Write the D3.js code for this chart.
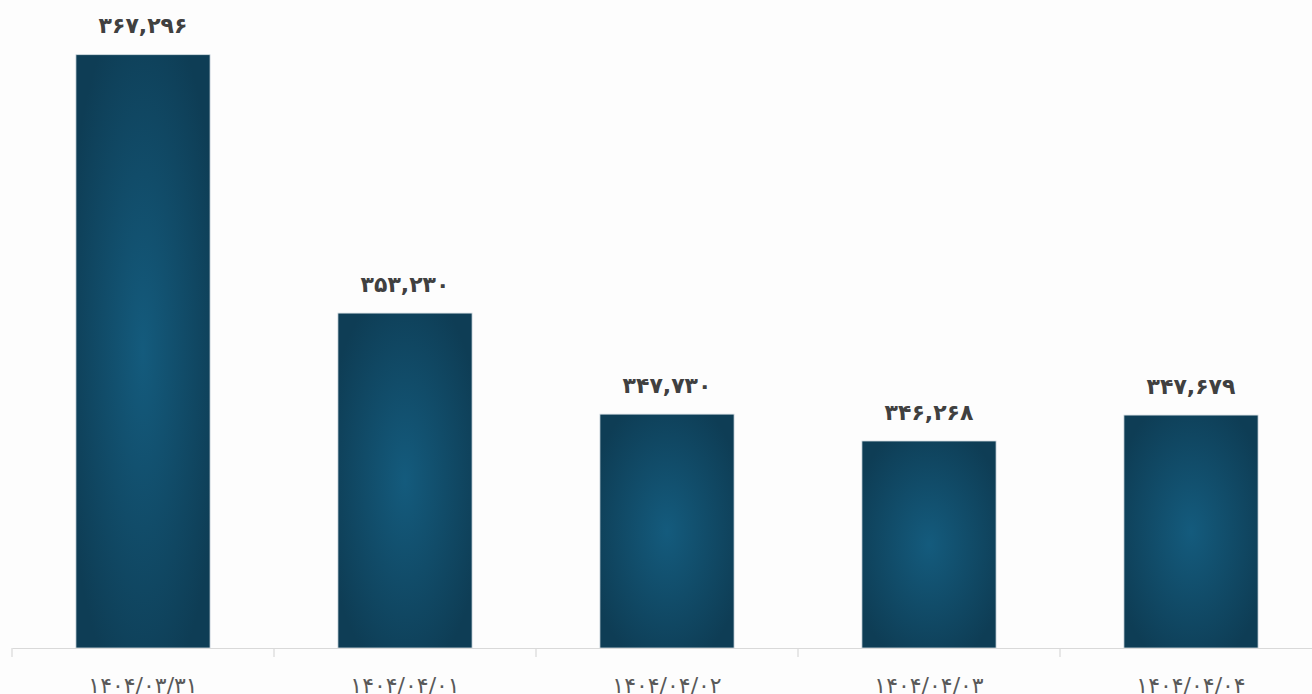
<!DOCTYPE html>
<html><head><meta charset="utf-8">
<script src="https://cdn.jsdelivr.net/npm/d3@7"></script>
<style>
html,body{margin:0;padding:0;background:#fdfdfd;overflow:hidden;}
svg{display:block;}
</style></head>
<body>
<svg id="chart" width="1312" height="694"></svg>
<script>
const categories = ["۱۴۰۴/۰۳/۳۱","۱۴۰۴/۰۴/۰۱","۱۴۰۴/۰۴/۰۲","۱۴۰۴/۰۴/۰۳","۱۴۰۴/۰۴/۰۴"];
const values = [367296, 353230, 347730, 346268, 347679];
const valueLabels = ["۳۶۷,۲۹۶","۳۵۳,۲۳۰","۳۴۷,۷۳۰","۳۴۶,۲۶۸","۳۴۷,۶۷۹"];
const yDomain = [335000, 370000];

const svg = d3.select("#chart");
const W = 1312, H = 694;
const margin = {left: 12, right: -10, top: 5, bottom: 46};
const x = d3.scaleBand().domain(categories).range([margin.left, W - margin.right]).paddingInner(0).paddingOuter(0);
const y = d3.scaleLinear().domain(yDomain).range([H - margin.bottom, margin.top]);

const defs = svg.append("defs");
const grad = defs.append("radialGradient").attr("id","barGrad")
  .attr("cx","50%").attr("cy","50%").attr("r","60%");
grad.append("stop").attr("offset","0%").attr("stop-color","#145b7d");
grad.append("stop").attr("offset","100%").attr("stop-color","#0e3d55");

const barW = x.bandwidth() * 0.512;
const baseY = y(yDomain[0]);

svg.append("g").selectAll("rect").data(values).join("rect")
  .attr("x", (d,i) => x(categories[i]) + (x.bandwidth() - barW)/2)
  .attr("y", d => y(d))
  .attr("width", barW)
  .attr("height", d => baseY - y(d))
  .attr("fill", "url(#barGrad)")
  .attr("stroke", "#d5dee3").attr("stroke-width", 0.8);

svg.append("g").selectAll("text").data(values).join("text")
  .attr("x", (d,i) => x(categories[i]) + x.bandwidth()/2)
  .attr("y", d => y(d) - 29)
  .attr("dy", "0.35em")
  .attr("text-anchor","middle")
  .attr("font-family","'DejaVu Sans', 'Noto Sans', sans-serif")
  .attr("font-weight","bold")
  .attr("font-size", 22)
  .attr("fill","#404040")
  .text((d,i) => valueLabels[i]);

const axis = d3.axisBottom(x).tickSize(0).tickSizeOuter(0);
const gx = svg.append("g").attr("transform", `translate(0,${baseY})`).call(axis);
gx.select(".domain").attr("stroke","#d9d9d9").attr("stroke-width",1.2);
gx.selectAll(".tick text")
  .attr("font-family","'DejaVu Sans', 'Noto Sans', sans-serif")
  .attr("font-size", 22).attr("fill","#595959")
  .attr("y", 37).attr("dy","0.35em");
// category boundary ticks
svg.append("g").selectAll("line").data(categories).join("line")
  .attr("x1", d => x(d)).attr("x2", d => x(d))
  .attr("y1", baseY).attr("y2", baseY + 9)
  .attr("stroke","#d9d9d9").attr("stroke-width",1.2);
</script>
</body></html>
